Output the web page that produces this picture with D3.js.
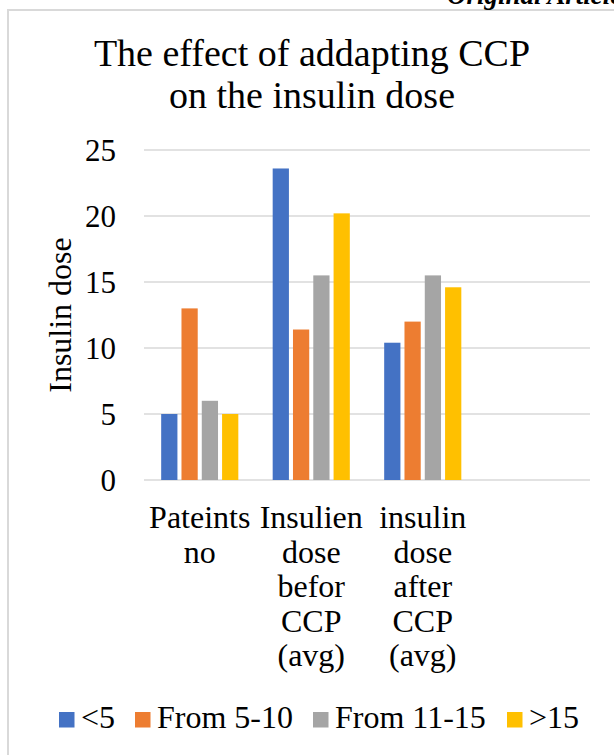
<!DOCTYPE html>
<html>
<head>
<meta charset="utf-8">
<script src="https://cdn.jsdelivr.net/npm/d3@7/dist/d3.min.js"></script>
<style>
  html, body { margin: 0; padding: 0; background: #fff; overflow: hidden; }
  svg { display: block; font-family: "Liberation Serif", "Times New Roman", serif; }
</style>
</head>
<body>
<svg id="chart" width="614" height="755"></svg>
<script>
// Category labels (last slot is an empty category in the source sheet)
const categories = [
  ["Pateints", "no"],
  ["Insulien", "dose", "befor", "CCP", "(avg)"],
  ["insulin", "dose", "after", "CCP", "(avg)"],
  [""]
];
const seriesNames = ["<5", "From 5-10", "From 11-15", ">15"];
const seriesColors = ["#4472C4", "#ED7D31", "#A5A5A5", "#FFC000"];
// Values per series, one per category
const under5 = [5, 23.6, 10.4];
const from5to10 = [13, 11.4, 12];
const from11to15 = [6, 15.5, 15.5];
const over15 = [5, 20.2, 14.6];
const yTicks = [0, 5, 10, 15, 20, 25];

const seriesValues = [under5, from5to10, from11to15, over15];
const serif = "'Liberation Serif', 'Times New Roman', serif";

const svg = d3.select("#chart");

// Frame of the chart area
svg.append("path")
  .attr("d", "M8,760 L8,10 L620,10")
  .attr("fill", "none")
  .attr("stroke", "#D9D9D9")
  .attr("stroke-width", 2);

// Running header of the page
svg.append("text")
  .attr("x", 447).attr("y", 4)
  .attr("font-size", 27).attr("font-weight", "bold").attr("font-style", "italic")
  .text("Original Article");

// Title
const title = svg.append("text")
  .attr("text-anchor", "middle")
  .attr("font-size", 38)
  .attr("fill", "#000");
title.append("tspan").attr("x", 312).attr("y", 66).text("The effect of addapting CCP");
title.append("tspan").attr("x", 312).attr("y", 108).text("on the insulin dose");

const plot = { left: 144, right: 590, top: 150, bottom: 480 };

const y = d3.scaleLinear().domain([0, 25]).range([plot.bottom, plot.top]);
const x0 = d3.scaleBand()
  .domain(d3.range(categories.length))
  .range([plot.left, plot.right])
  .paddingInner(0).paddingOuter(0);
const groupW = 81.2;
const x1 = d3.scaleBand()
  .domain(d3.range(seriesNames.length))
  .range([-groupW / 2, groupW / 2])
  .paddingInner(0.2).paddingOuter(0.1);

// Gridlines
svg.append("g")
  .selectAll("line").data(yTicks).join("line")
  .attr("x1", plot.left).attr("x2", plot.right)
  .attr("y1", d => y(d)).attr("y2", d => y(d))
  .attr("stroke", "#D9D9D9").attr("stroke-width", 1.6);

// Y axis tick labels
const yAxis = d3.axisLeft(y).tickValues(yTicks).tickSize(0).tickPadding(0);
const yg = svg.append("g")
  .attr("transform", `translate(116,0)`)
  .call(yAxis);
yg.attr("font-family", serif);
yg.select(".domain").remove();
yg.selectAll("text")
  .attr("font-family", serif)
  .attr("font-size", 31)
  .attr("fill", "#000")
  .attr("dy", "0.34em");

// Y axis title
svg.append("text")
  .attr("transform", "translate(71,315) rotate(-90)")
  .attr("text-anchor", "middle")
  .attr("font-size", 32)
  .text("Insulin dose");

// Bars
const groups = svg.append("g")
  .selectAll("g").data(seriesValues).join("g")
  .attr("fill", (d, i) => seriesColors[i]);
groups.each(function (vals, si) {
  d3.select(this).selectAll("rect")
    .data(vals.map((v, ci) => ({ v, ci })))
    .join("rect")
    .attr("x", d => x0(d.ci) + x0.bandwidth() / 2 + x1(si))
    .attr("width", x1.bandwidth())
    .attr("y", d => y(d.v))
    .attr("height", d => y(0) - y(d.v));
});

// Category labels
const catG = svg.append("g");
categories.forEach((lines, ci) => {
  const t = catG.append("text")
    .attr("text-anchor", "middle")
    .attr("font-size", 32);
  lines.forEach((line, li) => {
    t.append("tspan")
      .attr("x", x0(ci) + x0.bandwidth() / 2)
      .attr("y", 528 + li * 34.5)
      .text(line);
  });
});

// Legend
const legendX = [59, 135, 313, 507];
const lg = svg.append("g");
seriesNames.forEach((name, i) => {
  const g = lg.append("g").attr("transform", `translate(${legendX[i]},0)`);
  g.append("rect")
    .attr("x", 0).attr("y", 712)
    .attr("width", 15.5).attr("height", 15.5)
    .attr("fill", seriesColors[i]);
  g.append("text")
    .attr("x", 22).attr("y", 728)
    .attr("font-size", 32)
    .text(name);
});
</script>
</body>
</html>
